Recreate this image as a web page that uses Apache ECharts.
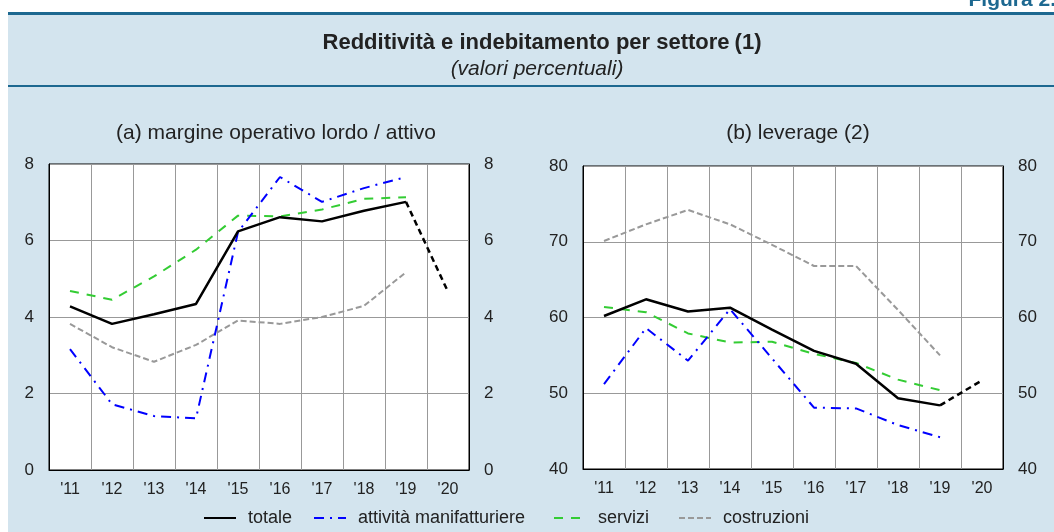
<!DOCTYPE html>
<html>
<head>
<meta charset="utf-8">
<script src="https://cdn.jsdelivr.net/npm/echarts@6/dist/echarts.min.js"></script>
<style>
  body { margin: 0; background: #fff; }
  #chart { width: 1054px; height: 532px; }
</style>
</head>
<body>
<div id="chart"></div>
<script>
  // anni
  const years = ["'11", "'12", "'13", "'14", "'15", "'16", "'17", "'18", "'19", "'20"];

  // (a) margine operativo lordo / attivo
  const molTotale = [4.28, 3.82, 4.07, 4.34, 6.24, 6.61, 6.50, 6.78, 7.01, null];
  const molTotaleStima = [null, null, null, null, null, null, null, null, 7.01, 4.66];
  const molManif = [3.16, 1.72, 1.41, 1.35, 6.22, 7.66, 7.01, 7.37, 7.66, null];
  const molServizi = [4.68, 4.45, 5.06, 5.76, 6.65, 6.63, 6.81, 7.09, 7.13, null];
  const molCostruzioni = [3.82, 3.21, 2.83, 3.27, 3.91, 3.82, 4.00, 4.29, 5.17, null];

  // (b) leverage
  const levTotale = [60.2, 62.4, 60.8, 61.3, 58.4, 55.6, 53.9, 49.35, 48.4, null];
  const levTotaleStima = [null, null, null, null, null, null, null, null, 48.4, 51.7];
  const levManif = [51.2, 58.6, 54.3, 61.1, 54.6, 48.1, 48.0, 45.8, 44.2, null];
  const levServizi = [61.4, 60.7, 57.9, 56.7, 56.8, 55.2, 54.0, 51.8, 50.4, null];
  const levCostruzioni = [70.1, 72.3, 74.2, 72.3, 69.6, 66.8, 66.8, 61.0, 55.0, null];

  const FONT = "'Liberation Sans', Arial, sans-serif";
  const BG = '#d3e4ee';
  const DARK = '#1d6890';

  const myChart = echarts.init(document.getElementById('chart'));

  function xAx(grid) {
    return {
      type: 'category', gridIndex: grid, data: years, boundaryGap: true,
      axisTick: { show: false },
      axisLine: { lineStyle: { color: '#000', width: 1 } },
      axisLabel: { color: '#222', fontSize: 16, fontFamily: FONT, margin: 12 },
      splitLine: { show: true, lineStyle: { color: '#999', width: 1 } }
    };
  }
  function yAx(grid, pos, min, max, step) {
    return {
      type: 'value', gridIndex: grid, position: pos, min: min, max: max, interval: step,
      axisTick: { show: false },
      axisLine: { show: true, lineStyle: { color: '#000', width: 1 } },
      axisLabel: { color: '#222', fontSize: 17, fontFamily: FONT, margin: 15 },
      splitLine: { show: pos === 'left', lineStyle: { color: '#999', width: 1 } }
    };
  }
  function line(name, data, x, y, color, dash, width) {
    return {
      name: name, type: 'line', xAxisIndex: x, yAxisIndex: y, data: data,
      symbol: 'none', connectNulls: false, z: 3,
      lineStyle: { color: color, width: width || 2, type: dash },
      itemStyle: { color: color }
    };
  }
  function legendAt(name, left) {
    return {
      data: [name], left: left, top: 509, padding: 0, itemWidth: 32, itemHeight: 12,
      itemStyle: { opacity: 0 },
      textStyle: { color: '#222', fontSize: 18, fontFamily: FONT, padding: [0, 0, 0, 7] },
      selectedMode: false
    };
  }

  myChart.setOption({
    backgroundColor: '#fff',
    animation: false,
    graphic: [
      { type: 'rect', z: -10, shape: { x: 8, y: 13, width: 1046, height: 519 }, style: { fill: BG } },
      { type: 'rect', z: -9, shape: { x: 8, y: 12, width: 1046, height: 3 }, style: { fill: DARK } },
      { type: 'rect', z: -9, shape: { x: 8, y: 85, width: 1046, height: 2 }, style: { fill: DARK } },
      { type: 'text', z: 5, style: { x: 1056, y: 11, text: 'Figura 2.', fill: DARK, align: 'right', verticalAlign: 'bottom', font: "bold 21px 'Liberation Sans', Arial, sans-serif" } }
    ],
    title: [
      {
        text: '{b|Redditività e indebitamento per settore} {n|(1)}',
        left: 537, top: 27, textAlign: 'center',
        textStyle: {
          rich: {
            b: { fontSize: 22, fontWeight: 'bold', color: '#222', fontFamily: FONT },
            n: { fontSize: 22, color: '#222', fontFamily: FONT }
          }
        }
      },
      {
        text: '(valori percentuali)', left: 532, top: 54, textAlign: 'center',
        textStyle: { fontSize: 21, fontStyle: 'italic', fontWeight: 'normal', color: '#222', fontFamily: FONT }
      },
      {
        text: '(a) margine operativo lordo / attivo', left: 271, top: 118, textAlign: 'center',
        textStyle: { fontSize: 21, fontWeight: 'normal', color: '#222', fontFamily: FONT }
      },
      {
        text: '(b) leverage (2)', left: 793, top: 118, textAlign: 'center',
        textStyle: { fontSize: 21, fontWeight: 'normal', color: '#222', fontFamily: FONT }
      }
    ],
    legend: [
      legendAt('totale', 203),
      legendAt('attività manifatturiere', 313),
      legendAt('servizi', 553),
      legendAt('costruzioni', 678)
    ],
    grid: [
      { left: 49, right: 585, top: 164, bottom: 62, show: true, backgroundColor: '#fff', borderColor: '#000', borderWidth: 1 },
      { left: 583, right: 51, top: 166, bottom: 63, show: true, backgroundColor: '#fff', borderColor: '#000', borderWidth: 1 }
    ],
    xAxis: [xAx(0), xAx(1)],
    yAxis: [
      yAx(0, 'left', 0, 8, 2), yAx(0, 'right', 0, 8, 2),
      yAx(1, 'left', 40, 80, 10), yAx(1, 'right', 40, 80, 10)
    ],
    series: [
      line('costruzioni', molCostruzioni, 0, 0, '#999999', [6, 3]),
      line('servizi', molServizi, 0, 0, '#33cc33', [9, 8]),
      line('attività manifatturiere', molManif, 0, 0, '#0000ff', [10, 6, 2, 6]),
      line('totale', molTotale, 0, 0, '#000000', 'solid', 2.5),
      line('totale_stima', molTotaleStima, 0, 0, '#000000', [6, 4], 2.5),
      line('costruzioni', levCostruzioni, 1, 2, '#999999', [6, 3]),
      line('servizi', levServizi, 1, 2, '#33cc33', [9, 8]),
      line('attività manifatturiere', levManif, 1, 2, '#0000ff', [10, 6, 2, 6]),
      line('totale', levTotale, 1, 2, '#000000', 'solid', 2.5),
      line('totale_stima', levTotaleStima, 1, 2, '#000000', [6, 4], 2.5)
    ]
  });
</script>
</body>
</html>
